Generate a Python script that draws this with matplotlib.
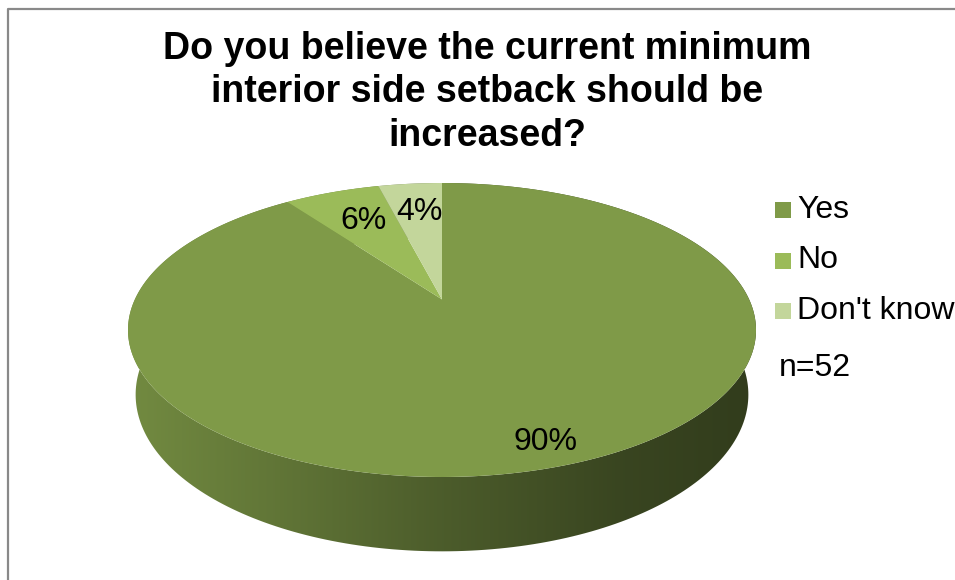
import numpy as np
import matplotlib.pyplot as plt
from matplotlib.patches import Polygon, Rectangle
from matplotlib.colors import to_rgb

# data
labels = ["Yes", "No", "Don't know"]
shares = [90, 6, 4]
colors = ["#7f9a48", "#9bbb59", "#c3d69b"]
title_lines = ["Do you believe the current minimum",
               "interior side setback should be",
               "increased?"]
note = "n=52"

plt.rcParams['font.family'] = ['Liberation Sans', 'DejaVu Sans']

fig = plt.figure(figsize=(9.55, 5.8), dpi=100)
ax = fig.add_axes([0, 0, 1, 1])
ax.set_xlim(0, 955)
ax.set_ylim(580, 0)
ax.axis('off')

# simple perspective camera looking down on a flat disc
phi = np.radians(26.5)
D = 4.3
depth = 0.23


def project(X, Y, Z):
    zc = D + Y * np.cos(phi) - Z * np.sin(phi)
    return X / zc, -(Y * np.sin(phi) + Z * np.cos(phi)) / zc


t = np.linspace(0, 2 * np.pi, 1441)
u0, w0 = project(np.sin(t), np.cos(t), 0 * t)
bx0, bx1, by0, by1 = 128, 756, 183, 477
sx = (bx1 - bx0) / (u0.max() - u0.min())
sy = (by1 - by0) / (w0.max() - w0.min())


def screen(X, Y, Z):
    u, w = project(X, Y, Z)
    return bx0 + (u - u0.min()) * sx, by0 + (w - w0.min()) * sy


# slice angles, clockwise from 12 o'clock
fracs = np.array(shares) / sum(shares)
edges = np.concatenate([[0], np.cumsum(fracs)]) * 2 * np.pi

# side walls with a left-to-right shading
shade_x = [128, 300, 440, 620, 756]
shade_f = [0.90, 0.74, 0.60, 0.45, 0.39]
gx = np.linspace(0, 955, 400)
gf = np.interp(gx, shade_x, shade_f)
for i in range(len(shares)):
    a = np.linspace(edges[i], edges[i + 1], 300)
    xt, yt = screen(np.sin(a), np.cos(a), 0 * a)
    xb, yb = screen(np.sin(a), np.cos(a), -depth + 0 * a)
    verts = np.column_stack([np.concatenate([xt, xb[::-1]]),
                             np.concatenate([yt, yb[::-1]])])
    patch = Polygon(verts, closed=True, facecolor='none', edgecolor='none')
    ax.add_patch(patch)
    base = np.array(to_rgb(colors[i]))
    img = (gf[:, None] * base[None, :])[None, :, :]
    im = ax.imshow(img, extent=[0, 955, 580, 0], aspect='auto',
                   interpolation='bilinear', zorder=1)
    im.set_clip_path(patch)

# top faces
cx, cy = screen(0.0, 0.0, 0.0)
for i in range(len(shares)):
    a = np.linspace(edges[i], edges[i + 1], 300)
    xt, yt = screen(np.sin(a), np.cos(a), 0 * a)
    verts = np.column_stack([np.concatenate([[cx], xt]),
                             np.concatenate([[cy], yt])])
    ax.add_patch(Polygon(verts, closed=True, facecolor=colors[i],
                         edgecolor='none', zorder=2))

# data labels
label_r = [0.88, 0.70, 0.72]
for i in range(len(shares)):
    mid = (edges[i] + edges[i + 1]) / 2
    lx, ly = screen(label_r[i] * np.sin(mid), label_r[i] * np.cos(mid), 0.0)
    ax.text(lx + 2, ly, f"{shares[i]}%", fontsize=23, ha='center',
            va='center', zorder=3)

# title
for k, line in enumerate(title_lines):
    ax.text(487, 49 + 43.5 * k, line, fontsize=27, fontweight='bold',
            ha='center', va='center')

# legend
for k, lab in enumerate(labels):
    y = 210 + 50.5 * k
    ax.add_patch(Rectangle((775, y - 8), 16, 16, facecolor=colors[k],
                           edgecolor='none'))
    ax.text(797, y, lab, fontsize=23, ha='left', va='center')
ax.text(779, 368, note, fontsize=23, ha='left', va='center')

# chart frame (right and bottom cut off)
ax.plot([7.5, 7.5, 955], [580, 8.5, 8.5], color='#898989', lw=1.6,
        solid_capstyle='butt')

fig.savefig('out.png', dpi=100)
